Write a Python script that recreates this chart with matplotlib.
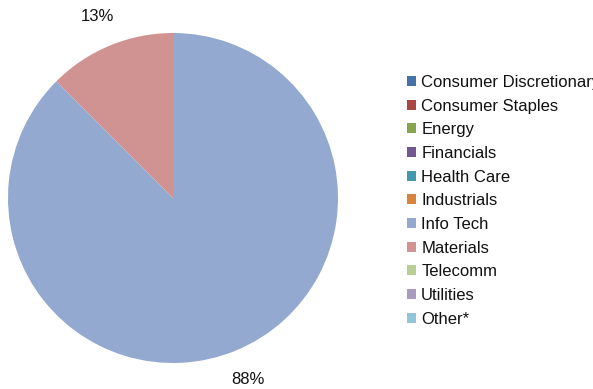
import matplotlib.pyplot as plt
from matplotlib.patches import Patch

sectors = ['Consumer Discretionary', 'Consumer Staples', 'Energy', 'Financials',
           'Health Care', 'Industrials', 'Info Tech', 'Materials', 'Telecomm',
           'Utilities', 'Other*']
weights = [0, 0, 0, 0, 0, 0, 87.5, 12.5, 0, 0, 0]
colors = ['#4572A7', '#AA4643', '#89A54E', '#71588F', '#4198AF', '#DB843D',
          '#93A9CF', '#D19392', '#B9CD96', '#A99BBD', '#92C5D8']

plt.rcParams['font.family'] = ['Liberation Sans', 'DejaVu Sans']

fig = plt.figure(figsize=(5.93, 3.89), dpi=100)
ax = fig.add_axes([8 / 593, 26 / 389, 330 / 593, 330 / 389])

# only non-empty sectors get a wedge; the legend lists all of them
shown = [(w, c) for w, c in zip(weights, colors) if w > 0]
wedges, texts, autotexts = ax.pie(
    [w for w, _ in shown], colors=[c for _, c in shown],
    startangle=90, counterclock=False, radius=1,
    autopct=lambda p: '%d%%' % int(p + 0.5), pctdistance=1.19,
    wedgeprops=dict(linewidth=0), textprops=dict(fontsize=12, color='#111111'))
ax.set_xlim(-1, 1)
ax.set_ylim(-1, 1)
ax.set_aspect('equal')
ax.axis('off')

handles = [Patch(facecolor=c, edgecolor='none') for c in colors]
fig.legend(handles, sectors, loc='upper left', bbox_to_anchor=(407 / 593, 1 - 75 / 389),
           frameon=False, fontsize=12, handlelength=0.55, handleheight=0.55,
           handletextpad=0.3, labelspacing=0.52, borderaxespad=0, borderpad=0,
           labelcolor='#111111')

fig.savefig('out.png', dpi=100)
